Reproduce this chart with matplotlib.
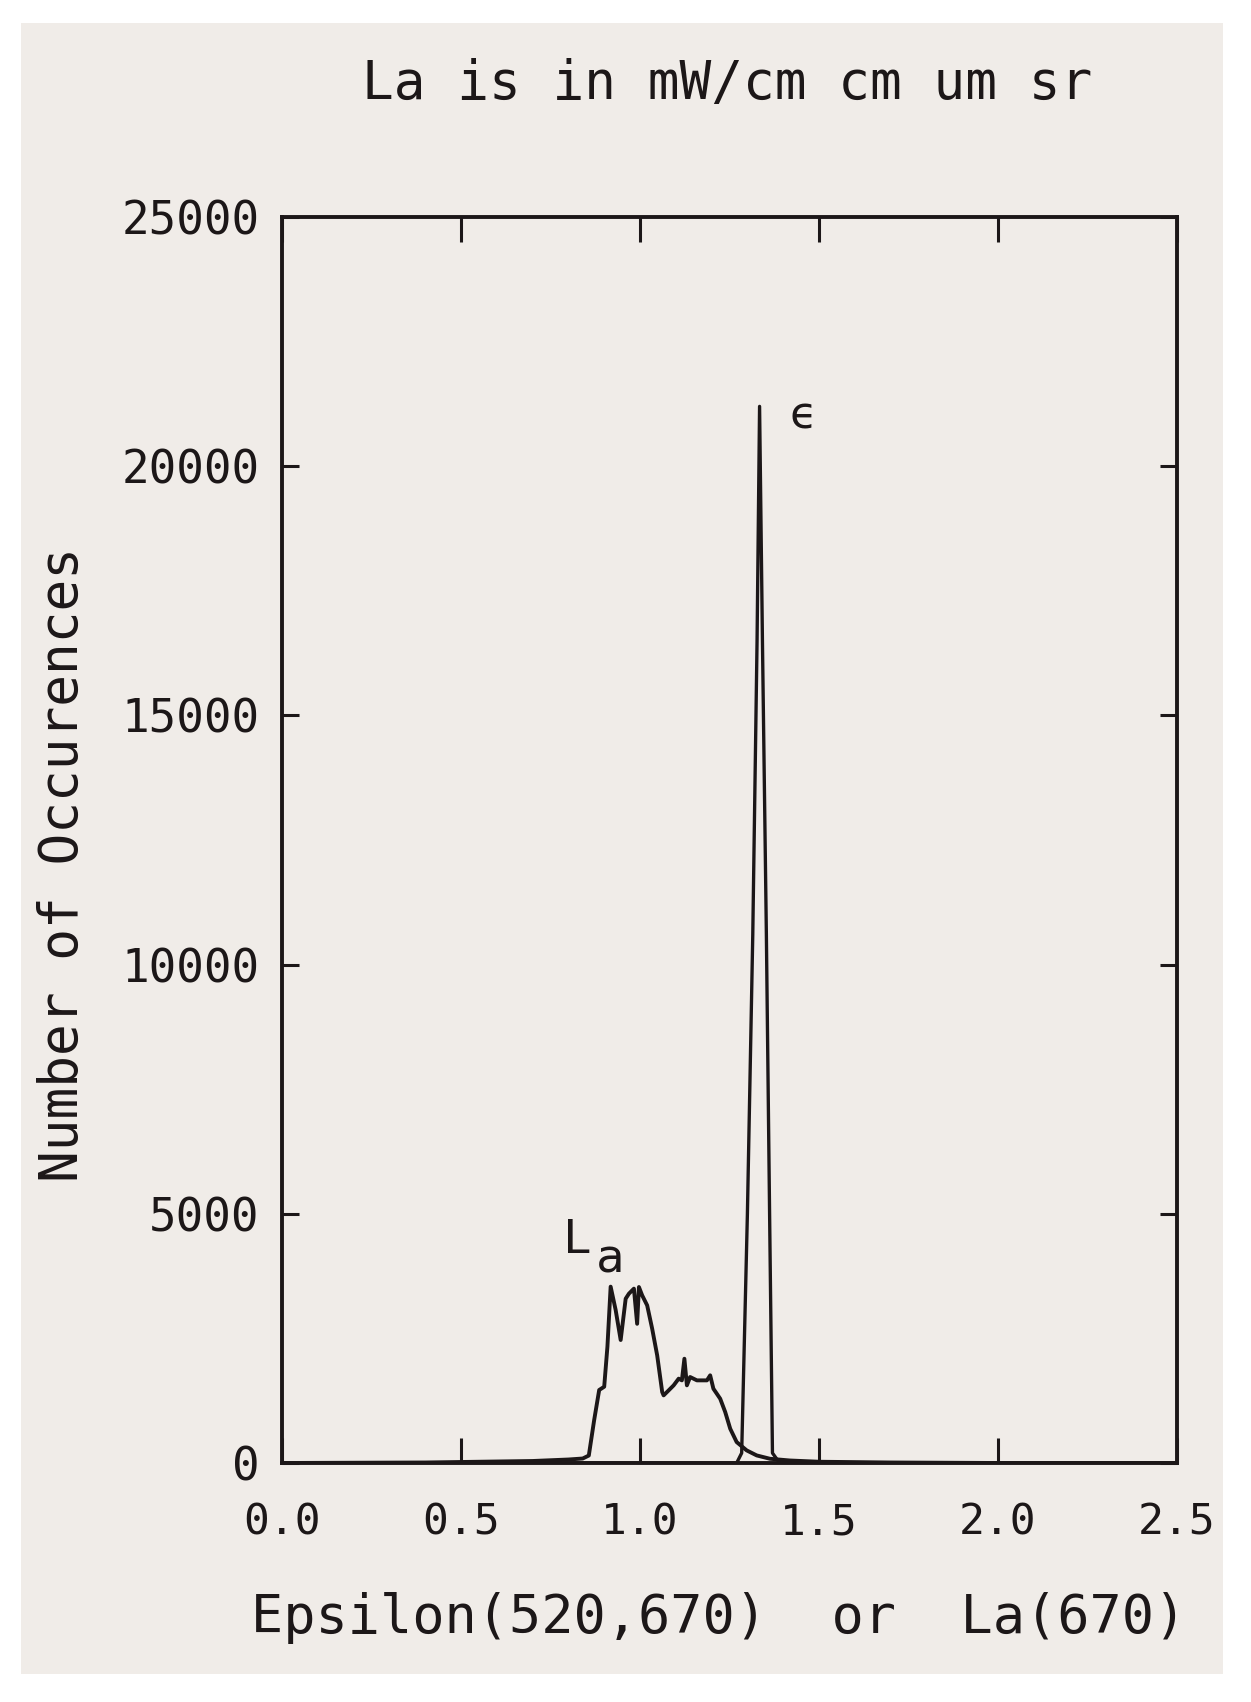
import matplotlib.pyplot as plt
from matplotlib.patches import Rectangle

# La(670) histogram
la_x = [0.0, 0.40, 0.70, 0.80, 0.84, 0.857, 0.872, 0.886, 0.900, 0.909, 0.918,
        0.932, 0.946, 0.960, 0.969, 0.983, 0.992, 0.997, 1.006, 1.020, 1.034,
        1.048, 1.062, 1.066, 1.080, 1.094, 1.108, 1.117, 1.124, 1.131, 1.140,
        1.159, 1.187, 1.196, 1.205, 1.224, 1.238, 1.252, 1.270, 1.298, 1.326,
        1.363, 1.419, 1.50, 1.70, 2.0, 2.5]
la_y = [0, 10, 40, 70, 90, 150, 863, 1465, 1530, 2334, 3538,
        3070, 2468, 3297, 3397, 3498, 2793, 3531, 3364, 3163, 2694,
        2159, 1424, 1357, 1457, 1558, 1692, 1658, 2092, 1558, 1725,
        1658, 1658, 1759, 1491, 1290, 1023, 688, 420, 253, 152,
        85, 50, 25, 10, 0, 0]

# Epsilon(520,670) histogram
eps_x = [0.0, 1.27, 1.284, 1.300, 1.315, 1.327, 1.334, 1.342, 1.353, 1.362, 1.370, 1.39, 2.5]
eps_y = [0, 0, 200, 5000, 10600, 16500, 21200, 16500, 10600, 5000, 200, 0, 0]

x_ticks = [0.0, 0.5, 1.0, 1.5, 2.0, 2.5]
x_labels = ["0.0", "0.5", "1.0", "1.5", "2.0", "2.5"]
y_ticks = [0, 5000, 10000, 15000, 20000, 25000]
y_labels = ["0", "5000", "10000", "15000", "20000", "25000"]

ink = '#1c1718'
paper = '#F0ECE8'
mono = 'DejaVu Sans Mono'

fig = plt.figure(figsize=(12.51, 17.02), dpi=100, facecolor='white')
# photo area behind everything
fig.add_artist(Rectangle((21 / 1251, 1 - 1674 / 1702), 1202 / 1251, 1651 / 1702,
                         transform=fig.transFigure, facecolor=paper,
                         edgecolor='none', zorder=-10))

ax = fig.add_axes([282 / 1251, 1 - 1463 / 1702, 895 / 1251, 1246 / 1702])
ax.set_facecolor('none')
ax.set_zorder(5)

ax.plot(la_x, la_y, color=ink, lw=2.8)
ax.plot(eps_x, eps_y, color=ink, lw=2.4)

ax.set_xlim(0, 2.5)
ax.set_ylim(0, 25000)
ax.set_xticks(x_ticks)
ax.set_xticklabels(x_labels, family=mono, fontsize=31, color=ink)
ax.set_yticks(y_ticks)
ax.set_yticklabels(y_labels, family=mono, fontsize=33, color=ink)
ax.tick_params(axis='x', direction='in', length=18, width=2.2, top=True, pad=28, colors=ink)
ax.tick_params(axis='y', direction='in', length=12, width=2.2, right=True, pad=16, colors=ink)
for s in ax.spines.values():
    s.set_linewidth(2.8)
    s.set_color(ink)

ax.text(0.785, 4213, "L", family=mono, fontsize=34, color=ink, ha='left', va='baseline')
ax.text(0.878, 3832, "a", family=mono, fontsize=34, color=ink, ha='left', va='baseline')
ax.text(1.418, 20750, "\u03f5", fontsize=32, color=ink, ha='left', va='baseline')

fig.text(0.581, 1 - 99 / 1702, "La is in mW/cm cm um sr", family=mono, fontsize=38,
         color=ink, ha='center', va='baseline')
fig.text(0.5747, 1 - 1633 / 1702, "Epsilon(520,670)  or  La(670)", family=mono,
         fontsize=38.5, color=ink, ha='center', va='baseline')
fig.text(0.0504, 0.4918, "Number of Occurences", family=mono, fontsize=38,
         color=ink, rotation=90, ha='center', va='center')

fig.savefig('out.png', dpi=100, facecolor='white')
